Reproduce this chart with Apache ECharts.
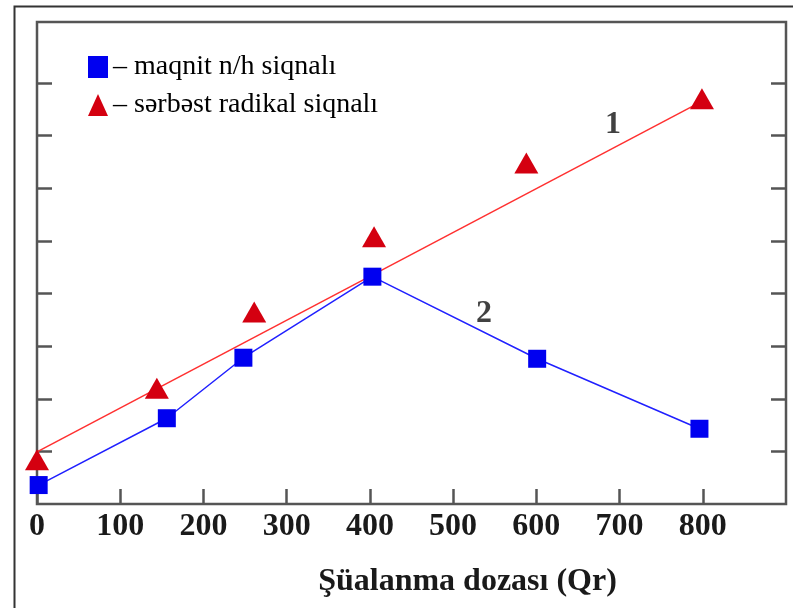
<!DOCTYPE html>
<html><head><meta charset="utf-8">
<script src="https://cdn.jsdelivr.net/npm/echarts@6/dist/echarts.min.js"></script>
<style>html,body{margin:0;padding:0;background:#fff}#c{width:793px;height:608px}</style>
</head><body><div id="c"></div>
<script>
// Data
const magnetDose = [2, 156, 248, 403, 601, 796];
const magnetSignal = [0.36, 1.63, 2.78, 4.32, 2.76, 1.43];
const radicalDose = [0, 144, 261, 405, 588, 799];
const radicalSignal = [0.84, 2.2, 3.65, 5.08, 6.48, 7.7];
const fitDose = [0, 800];
const fitSignal = [0.99, 7.66];
const xTicks = [0, 100, 200, 300, 400, 500, 600, 700, 800];
const yTicks = [1, 2, 3, 4, 5, 6, 7, 8];
const curveLabels = [{ name: '1', x: 692, y: 7.2 }, { name: '2', x: 537, y: 3.61 }];
const seriesNames = ['maqnit n/h siqnalı', 'sərbəst radikal siqnalı'];
const xTitle = 'Şüalanma dozası (Qr)';

const pairs = (xs, ys) => xs.map((x, i) => [x, ys[i]]);
const serif = '"Liberation Serif", "DejaVu Serif", serif';

const chart = echarts.init(document.getElementById('c'), null, { renderer: 'canvas' });
chart.setOption({
  animation: false,
  backgroundColor: '#fff',
  graphic: [{
    type: 'rect', left: 12, top: 4, shape: { width: 800, height: 700 },
    style: { fill: 'none', stroke: '#333', lineWidth: 2 }, silent: true
  }],
  grid: { left: 37, right: 7, top: 22, bottom: 104, show: true, borderColor: '#555', borderWidth: 2.5 },
  legend: {
    left: 83, top: 48, orient: 'vertical', itemGap: 10,
    itemWidth: 20, itemHeight: 22,
    data: [{ name: seriesNames[0], icon: 'rect' }, { name: seriesNames[1], icon: 'triangle' }],
    formatter: n => '– ' + n,
    textStyle: { fontFamily: serif, fontSize: 28, color: '#000', lineHeight: 28 }
  },
  xAxis: {
    type: 'value', min: 0, max: 900, interval: 100,
    axisLine: { show: false },
    axisTick: { show: true, inside: true, length: 15, lineStyle: { color: '#555', width: 2.5 }, customValues: xTicks },
    axisLabel: { customValues: xTicks, fontFamily: serif, fontWeight: 'bold', fontSize: 32, color: '#1a1a1a', margin: 7 },
    splitLine: { show: false },
    name: xTitle, nameLocation: 'middle', nameGap: 62,
    nameTextStyle: { fontFamily: serif, fontWeight: 'bold', fontSize: 32, color: '#1a1a1a', padding: [0, 0, 0, 112] }
  },
  yAxis: [{
    type: 'value', min: 0, max: 9.16,
    axisLine: { show: false },
    axisTick: { show: true, inside: true, length: 15, lineStyle: { color: '#555', width: 2.5 }, customValues: yTicks },
    axisLabel: { show: false }, splitLine: { show: false }
  }, {
    type: 'value', min: 0, max: 9.16, position: 'right',
    axisLine: { show: false },
    axisTick: { show: true, inside: true, length: 15, lineStyle: { color: '#555', width: 2.5 }, customValues: yTicks },
    axisLabel: { show: false }, splitLine: { show: false }
  }],
  series: [{
    name: 'fit', type: 'line', data: pairs(fitDose, fitSignal), showSymbol: false,
    lineStyle: { color: '#ff3030', width: 1.5 }, z: 2, silent: true
  }, {
    name: seriesNames[0], type: 'line', data: pairs(magnetDose, magnetSignal),
    symbol: 'rect', symbolSize: 18, itemStyle: { color: '#0000f0' },
    lineStyle: { color: '#2020ff', width: 1.5 }, z: 3
  }, {
    name: seriesNames[1], type: 'scatter', data: pairs(radicalDose, radicalSignal),
    symbol: 'triangle', symbolSize: [24, 21], itemStyle: { color: '#d40010', opacity: 1 }, z: 4
  }, {
    name: 'labels', type: 'scatter', symbolSize: 0,
    data: curveLabels.map(d => ({ name: d.name, value: [d.x, d.y] })),
    label: { show: true, position: 'inside', formatter: p => p.name, fontFamily: serif, fontWeight: 'bold', fontSize: 32, color: '#111' },
    silent: true
  }]
});
</script></body></html>
